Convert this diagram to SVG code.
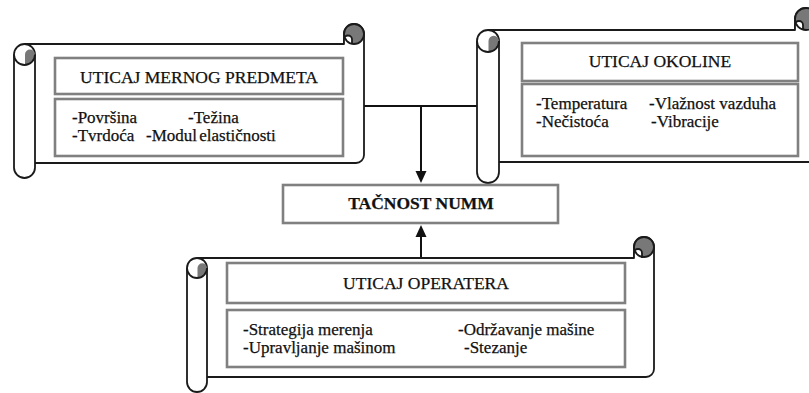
<svg xmlns="http://www.w3.org/2000/svg" width="809" height="393" viewBox="0 0 809 393" font-family="'Liberation Serif', 'Times New Roman', serif">
  <defs>
    <style>
      .scroll { fill: #ffffff; stroke: #1a1a1a; stroke-width: 1.8; stroke-linejoin: round; }
      .line { fill: none; stroke: #1a1a1a; stroke-width: 1.8; }
      .curl { fill: #787878; stroke: none; }
      .box { fill: #ffffff; stroke: #808080; stroke-width: 2.6; }
      .wire { fill: none; stroke: #111111; stroke-width: 2; }
      text { font-family: 'Liberation Serif', 'Times New Roman', serif; fill: #111111; stroke: #111111; stroke-width: 0.25; }
      .head { font-size: 17.5px; text-anchor: middle; }
      .item { font-size: 17px; }
      .title { font-size: 17.5px; font-weight: bold; text-anchor: middle; }
    </style>
    <marker id="arrow" markerUnits="userSpaceOnUse" markerWidth="12" markerHeight="12" viewBox="0 0 12 12" refX="6" refY="6" orient="auto">
      <path d="M0,0.5 L12,6 L0,11.5 Z" fill="#111111"/>
    </marker>
  </defs>

  <!-- connectors -->
  <g id="connectors">
    <line class="wire" x1="364" y1="106" x2="477" y2="106"/>
    <line class="wire" x1="421" y1="106" x2="421" y2="177" marker-end="url(#arrow)"/>
    <line class="wire" x1="421" y1="258" x2="421" y2="231" marker-end="url(#arrow)"/>
  </g>

  <!-- measured object factors -->
  <g id="uticaj-mernog-predmeta">
    <path class="scroll" d="M24.5,44 L344,44 L344,34 A10,10 0 1 1 364,34 L364,155 A8,8 0 0 1 356,163 L35,163"/>
    <circle class="curl" cx="354" cy="34" r="10"/>
    <path class="scroll" d="M344,44 L344,39.5 A4,4 0 0 1 352,39.5 L352,44"/>
    <circle class="line" cx="354" cy="34" r="10"/>
    <path class="scroll" d="M14,54.5 A10.5,10.5 0 0 1 35,54.5 L35,167.5 A10.5,10.5 0 0 1 14,167.5 Z"/>
    <path class="curl" d="M25,54.5 A5,5 0 0 1 35,54.5 A10.5,10.5 0 0 1 25,65 Z"/>
    <path class="line" d="M14,54.5 A10.5,10.5 0 0 0 35,54.5"/>
    <rect class="box" x="55" y="58" width="288" height="36"/>
    <rect class="box" x="55" y="99" width="288" height="57"/>
    <text class="head" x="199" y="83">UTICAJ MERNOG PREDMETA</text>
    <text class="item" x="72" y="123">-Površina</text>
    <text class="item" x="188" y="123">-Težina</text>
    <text class="item" x="72" y="141">-Tvrdoća</text>
    <text class="item" x="146" y="141" word-spacing="-2">-Modul elastičnosti</text>
  </g>

  <!-- environment factors -->
  <g id="uticaj-okoline">
    <path class="scroll" d="M488,30 L795,30 L795,19 A11,11 0 1 1 817,19 L817,154 A8,8 0 0 1 809,162 L499,162"/>
    <circle class="curl" cx="806" cy="19" r="11"/>
    <path class="scroll" d="M795,30 L795,25 A4,4 0 0 1 803,25 L803,30"/>
    <circle class="line" cx="806" cy="19" r="11"/>
    <path class="scroll" d="M477,41 A11,11 0 0 1 499,41 L499,172 A11,11 0 0 1 477,172 Z"/>
    <path class="curl" d="M488.5,41 A5.25,5.25 0 0 1 499,41 A11,11 0 0 1 488.5,52 Z"/>
    <path class="line" d="M477,41 A11,11 0 0 0 499,41"/>
    <rect class="box" x="522" y="43" width="276" height="38"/>
    <rect class="box" x="522" y="84" width="276" height="72"/>
    <text class="head" x="660" y="67">UTICAJ OKOLINE</text>
    <text class="item" x="536" y="109">-Temperatura</text>
    <text class="item" x="649" y="109">-Vlažnost vazduha</text>
    <text class="item" x="536" y="127">-Nečistoća</text>
    <text class="item" x="651" y="127">-Vibracije</text>
  </g>

  <!-- result -->
  <g id="tacnost-numm">
    <rect class="box" x="283" y="185" width="275" height="38"/>
    <text class="title" x="421" y="209">TAČNOST NUMM</text>
  </g>

  <!-- operator factors -->
  <g id="uticaj-operatera">
    <path class="scroll" d="M197,258 L634,258 L634,247 A10,10 0 1 1 654,247 L654,369 A8,8 0 0 1 646,377 L207,377"/>
    <circle class="curl" cx="644" cy="247" r="10"/>
    <path class="scroll" d="M634,258 L634,253 A4,4 0 0 1 642,253 L642,258"/>
    <circle class="line" cx="644" cy="247" r="10"/>
    <path class="scroll" d="M187,268 A10,10 0 0 1 207,268 L207,382 A10,10 0 0 1 187,382 Z"/>
    <path class="curl" d="M197.5,268 A4.75,4.75 0 0 1 207,268 A10,10 0 0 1 197.5,278 Z"/>
    <path class="line" d="M187,268 A10,10 0 0 0 207,268"/>
    <rect class="box" x="227" y="263" width="398" height="40"/>
    <rect class="box" x="227" y="310" width="398" height="57"/>
    <text class="head" x="426" y="289">UTICAJ OPERATERA</text>
    <text class="item" x="243" y="335">-Strategija merenja</text>
    <text class="item" x="458" y="335">-Održavanje mašine</text>
    <text class="item" x="243" y="353">-Upravljanje mašinom</text>
    <text class="item" x="464" y="353">-Stezanje</text>
  </g>
</svg>
